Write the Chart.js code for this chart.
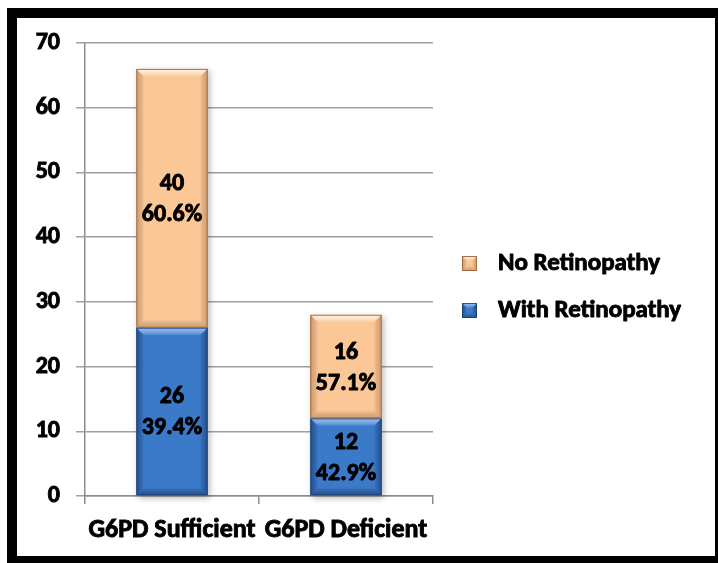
<!DOCTYPE html>
<html>
<head>
<meta charset="utf-8">
<script src="https://cdn.jsdelivr.net/npm/chart.js@4.4.1/dist/chart.umd.min.js"></script>
<style>
  html, body { margin: 0; padding: 0; background: #fff; overflow: hidden; width: 718px; height: 563px; }
  #page { position: relative; width: 718px; height: 563px; overflow: hidden; }
  #frame {
    position: absolute; left: 7px; top: 8px;
    width: 698px; height: 538px;
    border: 10px solid #000; background: #fff;
  }
  canvas { display: block; }
</style>
</head>
<body>
<div id="page"><div id="frame"><canvas id="c" width="698" height="538"></canvas></div></div>
<script>
// Patients by G6PD status, split by retinopathy
const categories = ['G6PD Sufficient', 'G6PD Deficient'];
const withRetinopathy = [26, 12];
const noRetinopathy = [40, 16];
const seriesNames = ['With Retinopathy', 'No Retinopathy'];
const yMin = 0, yMax = 70, yStep = 10;

const FONT = 'Calibri, Carlito, Lato, sans-serif';
const WEIGHT = 'bold';
const HEAVY = 0.9;            // extra stroke to thicken glyphs
const BLUE = '#3b79c9';
const PEACH = '#fbc797';

// Bevel shading for bars and legend swatches
function bevel(ctx, L, T, R, B, light, dark, edge) {
  const b = Math.min(8, (B - T) / 3, (R - L) / 3);
  ctx.save();
  // top face
  let g = ctx.createLinearGradient(0, T, 0, T + b);
  g.addColorStop(0, light); g.addColorStop(1, 'rgba(255,255,255,0)');
  ctx.fillStyle = g;
  ctx.beginPath(); ctx.moveTo(L, T); ctx.lineTo(R, T); ctx.lineTo(R - b, T + b); ctx.lineTo(L + b, T + b); ctx.closePath(); ctx.fill();
  // left face
  g = ctx.createLinearGradient(L, 0, L + b, 0);
  g.addColorStop(0, dark); g.addColorStop(1, 'rgba(0,0,0,0)');
  ctx.fillStyle = g;
  ctx.beginPath(); ctx.moveTo(L, T); ctx.lineTo(L + b, T + b); ctx.lineTo(L + b, B - b); ctx.lineTo(L, B); ctx.closePath(); ctx.fill();
  // right face
  g = ctx.createLinearGradient(R, 0, R - b, 0);
  g.addColorStop(0, dark); g.addColorStop(1, 'rgba(0,0,0,0)');
  ctx.fillStyle = g;
  ctx.beginPath(); ctx.moveTo(R, T); ctx.lineTo(R - b, T + b); ctx.lineTo(R - b, B - b); ctx.lineTo(R, B); ctx.closePath(); ctx.fill();
  // bottom face
  g = ctx.createLinearGradient(0, B, 0, B - b);
  g.addColorStop(0, dark); g.addColorStop(1, 'rgba(0,0,0,0)');
  ctx.fillStyle = g;
  ctx.beginPath(); ctx.moveTo(L, B); ctx.lineTo(R, B); ctx.lineTo(R - b, B - b); ctx.lineTo(L + b, B - b); ctx.closePath(); ctx.fill();
  ctx.strokeStyle = edge; ctx.lineWidth = 1;
  ctx.strokeRect(L + 0.5, T + 0.5, R - L - 1, B - T - 1);
  ctx.restore();
}

function heavyText(ctx, text, x, y) {
  ctx.lineWidth = HEAVY;
  ctx.strokeStyle = '#000';
  ctx.lineJoin = 'round';
  ctx.strokeText(text, x, y);
  ctx.fillText(text, x, y);
}

const styles = [
  { fill: BLUE, light: 'rgba(140,190,255,0.9)', dark: 'rgba(10,30,80,0.45)', edge: 'rgba(30,60,110,0.8)' },
  { fill: PEACH, light: 'rgba(255,248,225,0.95)', dark: 'rgba(150,90,30,0.35)', edge: 'rgba(150,100,60,0.9)' }
];

// soft drop shadow behind each stacked column
const barShadow = {
  id: 'barShadow',
  beforeDatasetsDraw(chart) {
    const ctx = chart.ctx;
    const bottom = chart.getDatasetMeta(0).data;
    const top = chart.getDatasetMeta(chart.data.datasets.length - 1).data;
    ctx.save();
    ctx.filter = 'blur(3px)';
    ctx.fillStyle = 'rgba(0,0,0,0.28)';
    bottom.forEach((bar, i) => {
      const p = bar.getProps(['x', 'base', 'width'], true);
      const t = top[i].getProps(['y'], true).y;
      ctx.fillRect(p.x - p.width / 2 + 2, t + 2, p.width, p.base - t + 1);
    });
    ctx.restore();
  }
};

// bevels plus count and share labels inside each segment
const barDecor = {
  id: 'barDecor',
  afterDatasetsDraw(chart) {
    const ctx = chart.ctx;
    const ds = chart.data.datasets;
    ds.forEach((d, di) => {
      chart.getDatasetMeta(di).data.forEach(bar => {
        const p = bar.getProps(['x', 'y', 'base', 'width'], true);
        const s = styles[di];
        bevel(ctx, p.x - p.width / 2, Math.min(p.y, p.base), p.x + p.width / 2, Math.max(p.y, p.base), s.light, s.dark, s.edge);
      });
    });
    ctx.save();
    ctx.font = WEIGHT + ' 24px ' + FONT;
    ctx.fillStyle = '#000';
    ctx.textAlign = 'center';
    ctx.textBaseline = 'middle';
    ds.forEach((d, di) => {
      chart.getDatasetMeta(di).data.forEach((bar, i) => {
        const p = bar.getProps(['x', 'y', 'base'], true);
        const total = ds.reduce((acc, dd) => acc + dd.data[i], 0);
        const v = d.data[i];
        const pct = (v / total * 100).toFixed(1) + '%';
        const cy = (p.y + p.base) / 2;
        heavyText(ctx, String(v), p.x, cy - 14);
        heavyText(ctx, pct, p.x, cy + 17);
      });
    });
    ctx.restore();
  }
};

// Legend on the right, top series listed first
const sideLegend = {
  id: 'sideLegend',
  afterDraw(chart) {
    const ctx = chart.ctx;
    const x0 = 445, rows = [246, 293];
    const order = chart.data.datasets.map((d, i) => i).reverse();
    ctx.save();
    ctx.font = WEIGHT + ' 25px ' + FONT;
    ctx.textBaseline = 'middle';
    ctx.textAlign = 'left';
    order.forEach((di, r) => {
      const cy = rows[r];
      const s = styles[di];
      ctx.fillStyle = s.fill;
      ctx.fillRect(x0, cy - 8, 15, 15);
      bevel(ctx, x0, cy - 8, x0 + 15, cy + 7, s.light, s.dark, s.edge);
      ctx.fillStyle = '#000';
      heavyText(ctx, chart.data.datasets[di].label, x0 + 36, cy);
    });
    ctx.restore();
  }
};

new Chart(document.getElementById('c'), {
  type: 'bar',
  data: {
    labels: categories,
    datasets: [
      { label: seriesNames[0], data: withRetinopathy, backgroundColor: BLUE },
      { label: seriesNames[1], data: noRetinopathy, backgroundColor: PEACH }
    ]
  },
  options: {
    responsive: false,
    devicePixelRatio: 1,
    animation: false,
    layout: { padding: { top: 25, right: 282, left: 0, bottom: 0 } },
    datasets: { bar: { categoryPercentage: 1, barPercentage: 0.41 } },
    plugins: { legend: { display: false }, tooltip: { enabled: false } },
    scales: {
      x: {
        stacked: true,
        grid: { drawOnChartArea: false, offset: true, tickLength: 8, color: '#8c8c8c', lineWidth: 1.5 },
        border: { color: '#8c8c8c', width: 1.5 },
        ticks: {
          color: '#000', font: { family: FONT, size: 26, weight: WEIGHT }, padding: 11,
          maxRotation: 0, autoSkip: false, textStrokeColor: '#000', textStrokeWidth: HEAVY
        },
        afterFit(s) { s.height = 60; }
      },
      y: {
        stacked: true,
        min: yMin, max: yMax,
        grid: { color: '#a0a0a0', lineWidth: 1.5, tickLength: 9 },
        border: { color: '#8c8c8c', width: 1.5 },
        ticks: {
          stepSize: yStep, color: '#000', font: { family: FONT, size: 24, weight: WEIGHT }, padding: 16,
          textStrokeColor: '#000', textStrokeWidth: HEAVY
        },
        afterFit(s) { s.width = 68; s.paddingTop = 0; s.paddingBottom = 0; }
      }
    }
  },
  plugins: [barShadow, barDecor, sideLegend]
});
</script>
</body>
</html>
